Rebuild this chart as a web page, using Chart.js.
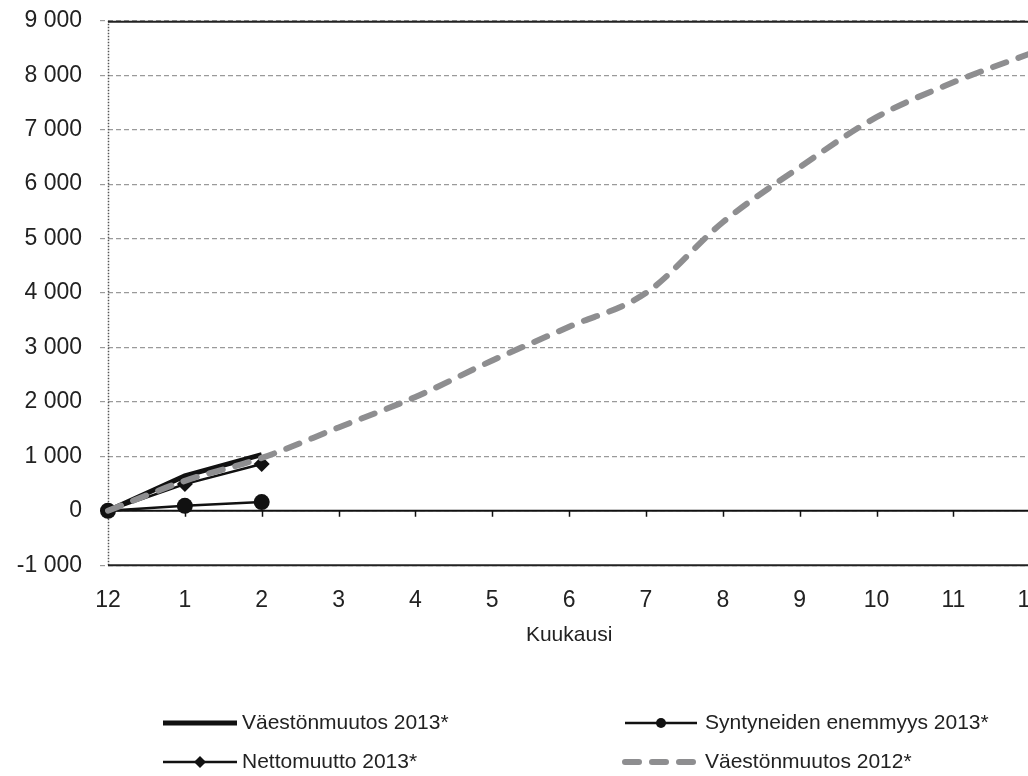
<!DOCTYPE html>
<html>
<head>
<meta charset="utf-8">
<script src="https://cdn.jsdelivr.net/npm/chart.js@4/dist/chart.umd.min.js"></script>
<style>
html, body { margin: 0; padding: 0; background: #fff; overflow: hidden; width: 1028px; height: 776px; }
#c { display: block; position: absolute; left: 0; top: -11px; }
</style>
</head>
<body>
<canvas id="c" width="1065" height="787" style="width:1065px;height:787px"></canvas>
<script>
const categories = ['12', '1', '2', '3', '4', '5', '6', '7', '8', '9', '10', '11', '12'];
const vaestonmuutos2013 = [0, 640, 1030];
const syntyneidenEnemmyys2013 = [0, 90, 160];
const nettomuutto2013 = [0, 490, 860];
const vaestonmuutos2012 = [0, 550, 970, 1530, 2090, 2760, 3380, 4000, 5300, 6310, 7230, 7870, 8400];
const yTicks = [-1000, 0, 1000, 2000, 3000, 4000, 5000, 6000, 7000, 8000, 9000];

const FONT = "'Liberation Sans', Arial, sans-serif";

function fmt(v) {
  const s = Math.abs(v).toString().replace(/\B(?=(\d{3})+(?!\d))/g, ' ');
  return (v < 0 ? '-' : '') + s;
}

const framePlugin = {
  id: 'frame',
  beforeDatasetsDraw(chart) {
    const { ctx, chartArea: a, scales } = chart;
    const y0 = scales.y.getPixelForValue(0);
    ctx.save();
    ctx.strokeStyle = '#555';
    ctx.lineWidth = 1.5;
    ctx.setLineDash([1.5, 1.5]);
    ctx.beginPath();
    ctx.moveTo(a.left + 0.5, a.top);
    ctx.lineTo(a.left + 0.5, a.bottom);
    ctx.stroke();
    ctx.setLineDash([]);
    ctx.strokeStyle = '#222';
    ctx.lineWidth = 2;
    ctx.beginPath();
    ctx.moveTo(a.left, a.top + 1);
    ctx.lineTo(a.right, a.top + 1);
    ctx.moveTo(a.left, a.bottom);
    ctx.lineTo(a.right, a.bottom);
    ctx.stroke();
    ctx.strokeStyle = '#111';
    ctx.lineWidth = 2;
    ctx.beginPath();
    ctx.moveTo(a.left, y0);
    ctx.lineTo(a.right, y0);
    ctx.stroke();
    ctx.lineWidth = 1.5;
    ctx.beginPath();
    for (let i = 0; i < categories.length; i++) {
      const x = Math.round(scales.x.getPixelForValue(i)) + 0.5;
      ctx.moveTo(x, y0);
      ctx.lineTo(x, y0 + 6);
    }
    ctx.stroke();
    ctx.restore();
  }
};

const legendPlugin = {
  id: 'customLegend',
  afterDraw(chart) {
    const { ctx } = chart;
    const ds = chart.data.datasets;
    const slots = [
      { i: 0, x1: 163, x2: 237, tx: 242, y: 734 },
      { i: 1, x1: 625, x2: 697, tx: 705, y: 734 },
      { i: 2, x1: 163, x2: 237, tx: 242, y: 773 },
      { i: 3, x1: 625, x2: 695, tx: 705, y: 773 }
    ];
    ctx.save();
    for (const s of slots) {
      const d = ds[s.i];
      ctx.strokeStyle = d.borderColor;
      ctx.lineWidth = d.borderWidth;
      ctx.lineCap = d.borderCapStyle || 'butt';
      ctx.setLineDash(d.borderDash || []);
      ctx.beginPath();
      ctx.moveTo(s.x1, s.y);
      ctx.lineTo(s.x2, s.y);
      ctx.stroke();
      ctx.setLineDash([]);
      const cx = (s.x1 + s.x2) / 2;
      ctx.fillStyle = d.pointBackgroundColor || d.borderColor;
      if (d.pointStyle === 'circle' && d.pointRadius > 0) {
        ctx.beginPath();
        ctx.arc(cx, s.y, 5, 0, Math.PI * 2);
        ctx.fill();
      } else if (d.pointStyle === 'rectRot' && d.pointRadius > 0) {
        const r = 6;
        ctx.beginPath();
        ctx.moveTo(cx, s.y - r);
        ctx.lineTo(cx + r, s.y);
        ctx.lineTo(cx, s.y + r);
        ctx.lineTo(cx - r, s.y);
        ctx.closePath();
        ctx.fill();
      }
      ctx.fillStyle = '#222';
      ctx.font = '21px ' + FONT;
      ctx.textBaseline = 'middle';
      ctx.textAlign = 'left';
      ctx.fillText(d.label, s.tx, s.y);
    }
    ctx.restore();
  }
};

new Chart(document.getElementById('c'), {
  type: 'line',
  data: {
    labels: categories,
    datasets: [
      {
        label: 'Väestönmuutos 2013*',
        data: vaestonmuutos2013,
        borderColor: '#111',
        backgroundColor: '#111',
        borderWidth: 5,
        pointRadius: 0,
        pointStyle: false,
        tension: 0,
        order: 2
      },
      {
        label: 'Syntyneiden enemmyys 2013*',
        data: syntyneidenEnemmyys2013,
        borderColor: '#111',
        backgroundColor: '#111',
        pointBackgroundColor: '#111',
        borderWidth: 2.5,
        pointStyle: 'circle',
        pointRadius: 8,
        pointBorderWidth: 0,
        tension: 0,
        order: 3
      },
      {
        label: 'Nettomuutto 2013*',
        data: nettomuutto2013,
        borderColor: '#111',
        backgroundColor: '#111',
        pointBackgroundColor: '#111',
        borderWidth: 2.5,
        pointStyle: 'rectRot',
        pointRadius: 8,
        pointBorderWidth: 0,
        tension: 0,
        order: 1
      },
      {
        label: 'Väestönmuutos 2012*',
        data: vaestonmuutos2012,
        borderColor: '#8e8e90',
        backgroundColor: '#8e8e90',
        borderWidth: 6,
        borderDash: [14, 13],
        borderCapStyle: 'round',
        pointRadius: 0,
        pointStyle: false,
        tension: 0.35,
        cubicInterpolationMode: 'monotone',
        order: 0
      }
    ]
  },
  options: {
    responsive: false,
    animation: false,
    layout: { padding: { top: 0, right: 0, bottom: 128, left: 0 } },
    plugins: {
      legend: { display: false },
      tooltip: { enabled: false }
    },
    scales: {
      x: {
        type: 'category',
        offset: false,
        grid: { display: false, drawTicks: false },
        border: { display: false },
        ticks: { color: '#222', font: { family: FONT, size: 23 }, padding: 22, maxRotation: 0, autoSkip: false },
        title: { display: true, text: 'Kuukausi', color: '#222', font: { family: FONT, size: 21 }, padding: { top: -14, bottom: 0 } }
      },
      y: {
        min: -1000,
        max: 9000,
        afterBuildTicks(scale) { scale.ticks = yTicks.map(v => ({ value: v })); },
        afterFit(scale) { scale.width = 108; },
        border: { display: false, dash: [5, 3] },
        grid: {
          color: '#9a9a9a',
          lineWidth: 1.2,
          tickLength: 8,
          tickBorderDash: [5, 3],
          tickColor: '#9a9a9a'
        },
        ticks: {
          color: '#222',
          font: { family: FONT, size: 23 },
          padding: 18,
          callback: (v) => fmt(v)
        }
      }
    }
  },
  plugins: [framePlugin, legendPlugin]
});
</script>
</body>
</html>
